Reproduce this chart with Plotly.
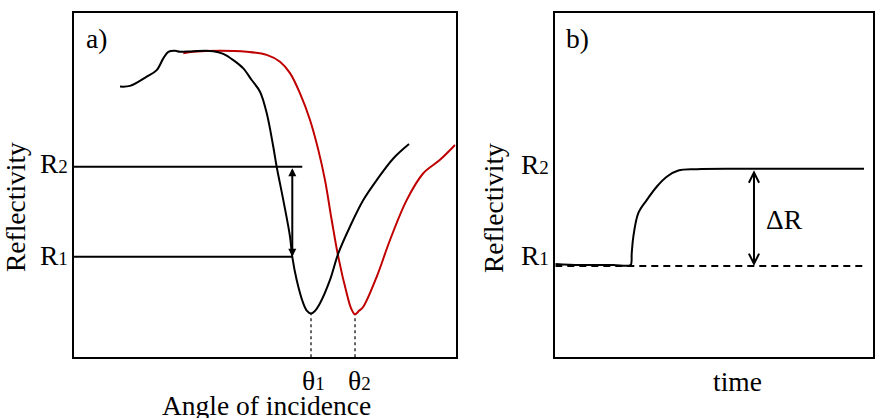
import plotly.graph_objects as go

# ---------- data (panel a: reflectivity vs angle of incidence) ----------
angle_black = [12.05, 14.67, 19.05, 21.67, 23.40, 24.71, 26.46, 27.77, 31.25, 36.49,
               39.11, 41.73, 44.35, 46.55, 48.73, 50.48, 52.21, 53.10, 54.83, 56.59,
               57.19, 58.34, 60.07, 61.04, 62.09, 63.14, 64.45, 67.07, 69.24, 72.31,
               75.79, 79.30, 83.65, 87.77]
refl_black = [0.787, 0.789, 0.816, 0.835, 0.869, 0.888, 0.891, 0.888, 0.890, 0.890,
              0.882, 0.864, 0.840, 0.806, 0.772, 0.710, 0.612, 0.554, 0.457, 0.351,
              0.292, 0.225, 0.157, 0.135, 0.127, 0.135, 0.157, 0.225, 0.302, 0.380,
              0.457, 0.515, 0.578, 0.620]
angle_red = [28.63, 31.25, 38.25, 45.25, 50.48, 53.97, 56.59, 59.21, 61.83, 64.00,
             65.76, 67.51, 69.24, 71.44, 72.57, 73.62, 74.67, 75.79, 79.30, 82.79,
             87.16, 91.51, 95.89, 99.82]
refl_red = [0.884, 0.888, 0.891, 0.888, 0.879, 0.859, 0.826, 0.767, 0.690, 0.603,
            0.515, 0.399, 0.292, 0.186, 0.143, 0.125, 0.135, 0.147, 0.234, 0.341,
            0.457, 0.535, 0.574, 0.617]
R1_a, R2_a = 0.292, 0.554
R2_line_end = 59.8
theta1, theta2 = 62.09, 73.62
theta1_min, theta2_min = 0.127, 0.125

# ---------- data (panel b: reflectivity vs time) ----------
time_b = [0, 7.77, 18.24, 22.45, 23.71, 24.03, 24.53, 26.10, 28.74, 31.89,
          35.03, 38.68, 44.47, 60.19, 97.08]
refl_b = [0.270, 0.267, 0.267, 0.265, 0.267, 0.301, 0.349, 0.418, 0.456, 0.495,
          0.524, 0.542, 0.546, 0.547, 0.547]
R1_b, R2_b = 0.264, 0.547
time_end = 97.08
dR_time = 62.48

BLACK = "#000000"
RED = "#c00000"
FONT = "Liberation Serif, Times New Roman, serif"
FS = 27.5
SUB_FS = 19

fig = go.Figure()

# panel a
fig.add_trace(go.Scatter(x=[0, R2_line_end], y=[R2_a, R2_a], mode="lines",
                         line=dict(color=BLACK, width=2), xaxis="x", yaxis="y"))
fig.add_trace(go.Scatter(x=[0, angle_black[20]], y=[R1_a, R1_a], mode="lines",
                         line=dict(color=BLACK, width=2), xaxis="x", yaxis="y"))
fig.add_trace(go.Scatter(x=[theta1, theta1], y=[0, theta1_min], mode="lines",
                         line=dict(color=BLACK, width=1.2, dash="3px,3px"), xaxis="x", yaxis="y"))
fig.add_trace(go.Scatter(x=[theta2, theta2], y=[0, theta2_min], mode="lines",
                         line=dict(color=BLACK, width=1.2, dash="3px,3px"), xaxis="x", yaxis="y"))
fig.add_trace(go.Scatter(x=angle_red, y=refl_red, mode="lines", line_shape="spline",
                         line=dict(color=RED, width=2), xaxis="x", yaxis="y"))
fig.add_trace(go.Scatter(x=angle_black, y=refl_black, mode="lines", line_shape="spline",
                         line=dict(color=BLACK, width=2), xaxis="x", yaxis="y"))

# panel b
fig.add_trace(go.Scatter(x=[0, time_end], y=[R1_b, R1_b], mode="lines",
                         line=dict(color=BLACK, width=2, dash="7px,5px"), xaxis="x2", yaxis="y2"))
fig.add_trace(go.Scatter(x=time_b, y=refl_b, mode="lines", line_shape="spline",
                         line=dict(color=BLACK, width=2), xaxis="x2", yaxis="y2"))

W, H = 884, 418

def px(x):
    return x / W

def py(y):
    return 1 - y / H

ann = []
# arrows
ann.append(dict(x=angle_black[20], y=R1_a, ax=angle_black[20], ay=R2_a, xref="x", yref="y",
                axref="x", ayref="y", text="", showarrow=True, arrowside="end+start",
                arrowhead=2, startarrowhead=2, arrowsize=0.8, startarrowsize=0.8,
                arrowwidth=2, arrowcolor=BLACK, standoff=0, startstandoff=0))
ann.append(dict(x=dR_time, y=R1_b, ax=dR_time, ay=R2_b, xref="x2", yref="y2",
                axref="x2", ayref="y2", text="", showarrow=True, arrowside="end+start",
                arrowhead=5, startarrowhead=5, arrowsize=1, startarrowsize=1,
                arrowwidth=2, arrowcolor=BLACK, standoff=0, startstandoff=0))

sub = "<span style='font-size:%dpx'>{}</span>" % SUB_FS
texts = [
    ("a)", 96, 38, 0),
    ("b)", 577, 38, 0),
    ("Reflectivity", 15, 207, -90),
    ("Reflectivity", 494, 208, -90),
    ("R" + sub.format(2), 53.5, 163, 0),
    ("R" + sub.format(1), 53.5, 255, 0),
    ("R" + sub.format(2), 535, 164, 0),
    ("R" + sub.format(1), 535, 255, 0),
    ("θ" + sub.format(1), 313, 380, 0),
    ("θ" + sub.format(2), 359, 380, 0),
    ("Angle of incidence", 266, 405, 0),
    ("time", 737, 381, 0),
    ("ΔR", 784.5, 219, 0),
]
for t, x, y, ang in texts:
    ann.append(dict(text=t, x=px(x), y=py(y), xref="paper", yref="paper",
                    xanchor="center", yanchor="middle", showarrow=False, textangle=ang,
                    font=dict(family=FONT, size=FS, color=BLACK)))

axis_common = dict(showticklabels=False, showgrid=False, zeroline=False, ticks="",
                   showline=True, mirror=True, linecolor=BLACK, linewidth=1.5, fixedrange=True)

fig.update_layout(
    width=W, height=H,
    margin=dict(l=0, r=0, t=0, b=0),
    paper_bgcolor="white", plot_bgcolor="white",
    showlegend=False,
    font=dict(family=FONT, color=BLACK),
    xaxis=dict(domain=[74 / W, 455.7 / W], range=[0, 100], anchor="y", **axis_common),
    yaxis=dict(domain=[1 - 357.3 / H, 1 - 13.3 / H], range=[0, 1], anchor="x", **axis_common),
    xaxis2=dict(domain=[555.3 / W, 873.3 / W], range=[0, 100], anchor="y2", **axis_common),
    yaxis2=dict(domain=[1 - 356.7 / H, 1 - 13.3 / H], range=[0, 1], anchor="x2", **axis_common),
    annotations=ann,
)

fig.write_html("out.html")
